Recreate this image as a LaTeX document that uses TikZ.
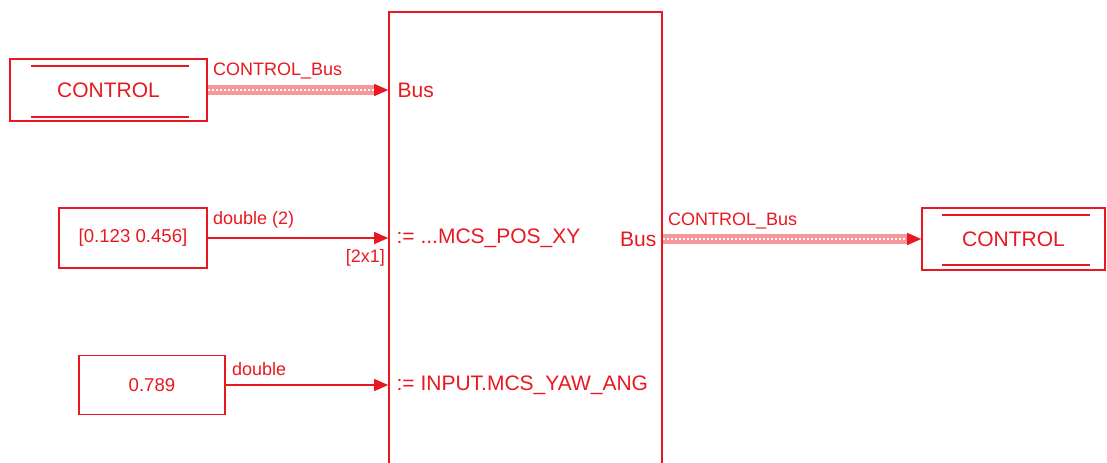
\documentclass[tikz,border=0pt]{standalone}
\usepackage{fontspec}
\setmainfont{Liberation Sans}
\usetikzlibrary{arrows.meta}
\definecolor{sigred}{RGB}{232,24,32}
\tikzset{
  blk/.style={draw=sigred, line width=0.8pt, text=sigred, inner sep=0pt},
  sig/.style={draw=sigred, line width=0.7pt, -{Triangle[length=7pt,width=6pt]}},
  bus/.style={draw=sigred!45, line width=5pt, shorten >=6pt,
    postaction={draw=white, line width=1pt, dash pattern=on 1pt off 1pt}},
  tagline/.style={draw=sigred, line width=1pt},
  lbl/.style={text=sigred, font=\fontsize{9}{10}\selectfont, inner sep=0pt},
  port/.style={text=sigred, font=\fontsize{10.5}{12}\selectfont, inner sep=0pt}
}

\begin{document}
\begin{tikzpicture}[x=0.5pt,y=-0.5pt]
  \useasboundingbox (0,0) rectangle (1107,462);
  \clip (0,0) rectangle (1107,462);

  % bus assignment block, runs off the bottom
  \node[blk, minimum width=136.5pt, minimum height=244pt] (asg) at (525.5,256) {};

  % sources
  \node[blk, minimum width=98.5pt, minimum height=31pt, font=\fontsize{10.5}{12}\selectfont] (ctlin) at (108.5,90) {CONTROL};
  \node[blk, minimum width=74pt, minimum height=30pt, font=\fontsize{9.3}{11}\selectfont] (cstpos) at (133,238) {[0.123 0.456]};
  \node[blk, minimum width=73pt, minimum height=29.5pt, font=\fontsize{9.3}{11}\selectfont] (cstyaw) at (152,385) {0.789};

  % goto tag
  \node[blk, minimum width=91.5pt, minimum height=31pt, font=\fontsize{10.5}{12}\selectfont] (ctlout) at (1013.5,239) {CONTROL};

  \draw[tagline] ([xshift=11pt,yshift=-4pt]ctlin.north west) -- ([xshift=-9.5pt,yshift=-4pt]ctlin.north east);
  \draw[tagline] ([xshift=11pt,yshift=2.5pt]ctlin.south west) -- ([xshift=-9.5pt,yshift=2.5pt]ctlin.south east);
  \draw[tagline] ([xshift=10.5pt,yshift=-4pt]ctlout.north west) -- ([xshift=-8pt,yshift=-4pt]ctlout.north east);
  \draw[tagline] ([xshift=10.5pt,yshift=3pt]ctlout.south west) -- ([xshift=-8pt,yshift=3pt]ctlout.south east);

  % ports
  \coordinate (pin1) at (asg.west |- ctlin.east);
  \coordinate (pin2) at (asg.west |- cstpos.east);
  \coordinate (pin3) at (asg.west |- cstyaw.east);
  \coordinate (pout) at (asg.east |- ctlout.west);

  \node[port, anchor=west] (pbus) at ([xshift=4.5pt]pin1) {Bus};
  \node[port, anchor=west] (ppos) at ([xshift=4pt]pin2) {:= ...MCS\_POS\_XY};
  \node[port, anchor=west] (pyaw) at ([xshift=4pt]pin3) {:= INPUT.MCS\_YAW\_ANG};
  \node[port, anchor=east] (pobus) at ([xshift=-3pt]pout) {Bus};

  % signals
  \draw[bus] (ctlin.east) -- (pin1);
  \draw[sig] ([xshift=-1pt]pin1) -- (pin1);
  \draw[sig] (cstpos.east) -- (pin2);
  \draw[sig] (cstyaw.east) -- (pin3);
  \draw[bus] (pout) -- (ctlout.west);
  \draw[sig] ([xshift=-1pt]ctlout.west) -- (ctlout.west);

  \node[lbl, anchor=west] (lbin) at ([xshift=2.5pt,yshift=9.5pt]ctlin.east) {CONTROL\_Bus};
  \node[lbl, anchor=west] (lbpos) at ([xshift=2.5pt,yshift=9pt]cstpos.east) {double (2)};
  \node[lbl, anchor=west] (lbyaw) at ([xshift=3pt,yshift=8pt]cstyaw.east) {double};
  \node[lbl, anchor=east] (lbdim) at ([xshift=-1.5pt,yshift=-10pt]pin2) {[2x1]};
  \node[lbl, anchor=west] (lbout) at ([xshift=2.5pt,yshift=9pt]pout) {CONTROL\_Bus};
\end{tikzpicture}
\end{document}
